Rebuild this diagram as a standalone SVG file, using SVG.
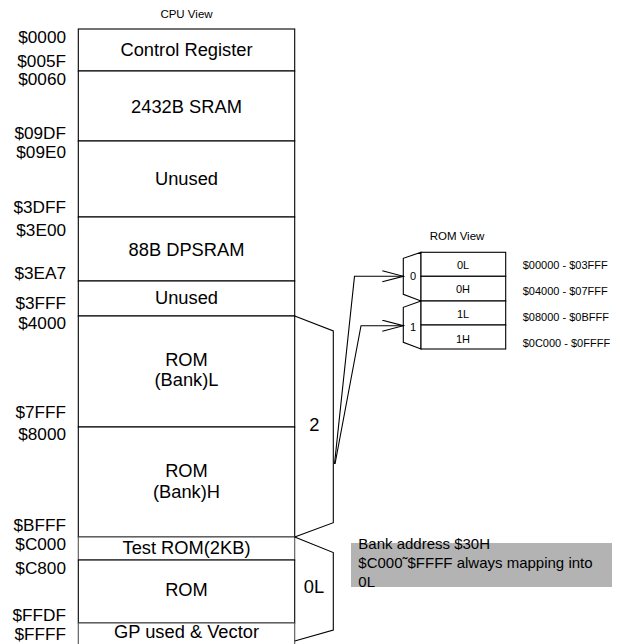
<svg xmlns="http://www.w3.org/2000/svg" width="630" height="644" viewBox="0 0 630 644">
<style>
text{font-family:"Liberation Sans",Arial,sans-serif;fill:#000}
.addr{font-size:17.2px;text-anchor:end}
.box{font-size:18.3px;text-anchor:middle}
.small{font-size:11.5px;text-anchor:middle}
.rom{font-size:11px;text-anchor:middle}
.romaddr{font-size:11px}
.note{font-size:15px}
.ln{fill:none;stroke:#000;stroke-width:1.1}
.cell{fill:#fff;stroke:#000;stroke-width:1.1}
.grey{fill:#fff;stroke:#555;stroke-width:1.1}
</style>
<defs>
<marker id="arr" markerWidth="24" markerHeight="14" refX="22" refY="6" orient="auto" markerUnits="userSpaceOnUse">
<path d="M1,0.5 L22,6 L1,11.5" fill="none" stroke="#000" stroke-width="1.1"/>
</marker>
</defs>
<rect width="630" height="644" fill="#fff"/>

<text class="small" x="186.5" y="18">CPU View</text>

<g id="addr-labels">
<text class="addr" x="66" y="43">$0000</text>
<text class="addr" x="66" y="67">$005F</text>
<text class="addr" x="66" y="85">$0060</text>
<text class="addr" x="66" y="139">$09DF</text>
<text class="addr" x="66" y="158">$09E0</text>
<text class="addr" x="66" y="213">$3DFF</text>
<text class="addr" x="66" y="236">$3E00</text>
<text class="addr" x="66" y="279">$3EA7</text>
<text class="addr" x="66" y="309">$3FFF</text>
<text class="addr" x="66" y="329">$4000</text>
<text class="addr" x="66" y="418">$7FFF</text>
<text class="addr" x="66" y="440">$8000</text>
<text class="addr" x="66" y="531">$BFFF</text>
<text class="addr" x="66" y="550">$C000</text>
<text class="addr" x="66" y="574">$C800</text>
<text class="addr" x="66" y="621">$FFDF</text>
<text class="addr" x="66" y="640">$FFFF</text>
</g>

<g id="control-register">
<rect class="cell" x="78.3" y="29" width="216.4" height="42"/>
<text class="box" x="186.5" y="56">Control Register</text>
</g>
<g id="sram">
<rect class="cell" x="78.3" y="71" width="216.4" height="70"/>
<text class="box" x="186.5" y="112.5">2432B SRAM</text>
</g>
<g id="unused1">
<rect class="cell" x="78.3" y="141" width="216.4" height="76"/>
<text class="box" x="186.5" y="185">Unused</text>
</g>
<g id="dpsram">
<rect class="cell" x="78.3" y="217" width="216.4" height="64"/>
<text class="box" x="186.5" y="255.5">88B DPSRAM</text>
</g>
<g id="unused2">
<rect class="cell" x="78.3" y="281" width="216.4" height="35"/>
<text class="box" x="186.5" y="304">Unused</text>
</g>
<g id="rom-bank-l">
<rect class="cell" x="78.3" y="316" width="216.4" height="111"/>
<text class="box" x="186.5" y="366">ROM</text>
<text class="box" x="186.5" y="386">(Bank)L</text>
</g>
<g id="rom-bank-h">
<rect class="cell" x="78.3" y="427" width="216.4" height="110"/>
<text class="box" x="186.5" y="477">ROM</text>
<text class="box" x="186.5" y="497.5">(Bank)H</text>
</g>
<g id="test-rom">
<rect class="grey" x="78.3" y="537" width="216.4" height="23"/>
<text class="box" x="186.5" y="554">Test ROM(2KB)</text>
</g>
<g id="rom-fixed">
<rect class="cell" x="78.3" y="560" width="216.4" height="63"/>
<text class="box" x="186.5" y="596">ROM</text>
</g>
<g id="gp-vector">
<rect class="grey" x="78.3" y="623" width="216.4" height="30"/>
<text class="box" x="186.5" y="638">GP used &amp; Vector</text>
</g>

<g id="bracket-2">
<polyline class="ln" points="294.7,316 333.3,331 333.3,522.7 294.7,537"/>
<text class="box" x="314.3" y="431">2</text>
</g>
<g id="bracket-0L">
<polyline class="ln" points="294.7,537 333.3,552.5 333.3,630 294.7,641"/>
<text class="box" x="314" y="593">0L</text>
</g>

<g id="note">
<rect x="351" y="543" width="261" height="44" fill="#b3b3b3"/>
<text class="note" x="358.3" y="549">Bank address $30H</text>
<text class="note" x="358.3" y="568">$C000˜$FFFF always mapping into</text>
<text class="note" x="358.3" y="587">0L</text>
</g>

<text class="small" x="457" y="240">ROM View</text>

<g id="mux0">
<polygon class="cell" points="421,252.3 403.3,258.3 403.3,294.3 421,301"/>
<text class="rom" x="413" y="280">0</text>
</g>
<g id="mux1">
<polygon class="cell" points="421,301 403.3,307.3 403.3,342.3 421,349"/>
<text class="rom" x="413" y="331">1</text>
</g>

<g id="rom-0L">
<rect class="cell" x="421" y="252.3" width="84.7" height="24"/>
<text class="rom" x="463" y="269">0L</text>
</g>
<g id="rom-0H">
<rect class="cell" x="421" y="276.3" width="84.7" height="24.7"/>
<text class="rom" x="463" y="293">0H</text>
</g>
<g id="rom-1L">
<rect class="cell" x="421" y="301" width="84.7" height="24"/>
<text class="rom" x="463" y="317.5">1L</text>
</g>
<g id="rom-1H">
<rect class="cell" x="421" y="325" width="84.7" height="24"/>
<text class="rom" x="463" y="343">1H</text>
</g>

<g id="rom-addrs">
<text class="romaddr" x="522.7" y="269">$00000 - $03FFF</text>
<text class="romaddr" x="522.7" y="295">$04000 - $07FFF</text>
<text class="romaddr" x="522.7" y="320.7">$08000 - $0BFFF</text>
<text class="romaddr" x="522.7" y="346.7">$0C000 - $0FFFF</text>
</g>

<g id="connectors">
<polyline class="ln" points="334.5,464 354.5,276.3 403.3,276.3" marker-end="url(#arr)"/>
<polyline class="ln" points="335,464 361,325.7 403.3,325.7" marker-end="url(#arr)"/>
</g>
</svg>
